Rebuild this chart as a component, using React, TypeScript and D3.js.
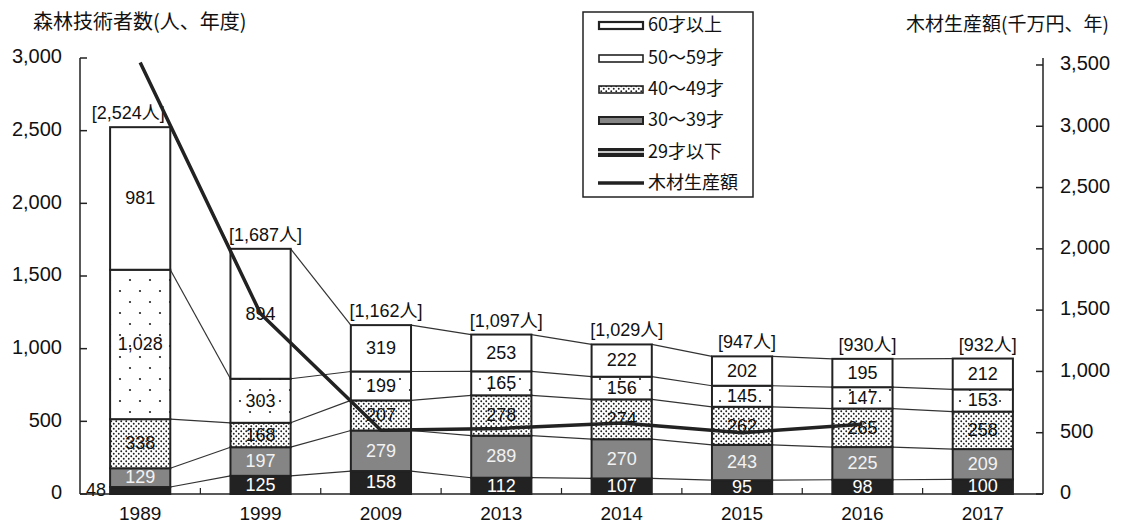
import React from 'react';
import * as d3 from 'd3';

const years = ['1989', '1999', '2009', '2013', '2014', '2015', '2016', '2017'];
const under29 = [48, 125, 158, 112, 107, 95, 98, 100];
const age30s = [129, 197, 279, 289, 270, 243, 225, 209];
const age40s = [338, 168, 207, 278, 274, 262, 265, 258];
const age50s = [1028, 303, 199, 165, 156, 145, 147, 153];
const over60 = [981, 894, 319, 253, 222, 202, 195, 212];
const totals = [2524, 1687, 1162, 1097, 1029, 947, 930, 932];
const timberOutput: (number | null)[] = [3520, 1470, 520, 535, 580, 500, 570, null];
const leftTicks = [0, 500, 1000, 1500, 2000, 2500, 3000];
const rightTicks = [0, 500, 1000, 1500, 2000, 2500, 3000, 3500];
const seriesKeys = ['u29', 'a30', 'a40', 'a50', 'o60'];
const legendLabels = ['60才以上', '50～59才', '40～49才', '30～39才', '29才以下', '木材生産額'];
const leftTitle = '森林技術者数(人、年度)';
const rightTitle = '木材生産額(千万円、年)';

const W = 1133;
const H = 528;
const X0 = 80;
const X1 = 1043;
const Y0 = 494;
const YT = 58;
const FONT = '"Liberation Sans", Arial, "Noto Sans CJK JP", sans-serif';
const JFONT = '"Noto Sans CJK JP", "Liberation Sans", sans-serif';

const fills: Record<string, string> = {
  u29: '#222',
  a30: '#858585',
  a40: 'url(#dense)',
  a50: 'url(#sparse)',
  o60: '#fff',
};
const textColors: Record<string, string> = {
  u29: '#fff',
  a30: '#f2f2f2',
  a40: '#111',
  a50: '#111',
  o60: '#111',
};

export default function App() {
  const x = d3.scaleBand<string>().domain(years).range([X0, X1]).paddingInner(0.5).paddingOuter(0.25);
  const bw = x.bandwidth();
  const yL = d3.scaleLinear().domain([0, 3000]).range([Y0, YT]);
  const yR = d3.scaleLinear().domain([0, 3557]).range([Y0, YT]);

  const rows = years.map((yr, i) => ({
    year: yr,
    u29: under29[i],
    a30: age30s[i],
    a40: age40s[i],
    a50: age50s[i],
    o60: over60[i],
  }));
  const stack = d3.stack<any>().keys(seriesKeys)(rows);

  const lineData = years
    .map((yr, i) => ({ yr, v: timberOutput[i] }))
    .filter((d) => d.v !== null) as { yr: string; v: number }[];
  const line = d3
    .line<{ yr: string; v: number }>()
    .x((d) => (x(d.yr) as number) + bw / 2)
    .y((d) => yR(d.v));

  const connectors: JSX.Element[] = [];
  stack.forEach((layer, li) => {
    for (let i = 0; i < years.length - 1; i++) {
      connectors.push(
        <line
          key={`c-${li}-${i}`}
          x1={(x(years[i]) as number) + bw}
          x2={x(years[i + 1]) as number}
          y1={yL(layer[i][1])}
          y2={yL(layer[i + 1][1])}
          stroke="#333"
          strokeWidth={1.2}
        />
      );
    }
  });

  const legendX = 598;
  const legendYs = [25, 58, 89, 120, 152, 183];

  return (
    <svg
      width={W}
      height={H}
      style={{ position: 'absolute', left: 0, top: 0, background: '#fff' }}
      fontFamily={FONT}
    >
      <defs>
        <pattern id="dense" width="5" height="5" patternUnits="userSpaceOnUse">
          <rect width="5" height="5" fill="#fff" />
          <circle cx="1.25" cy="1.25" r="0.95" fill="#222" />
          <circle cx="3.75" cy="3.75" r="0.95" fill="#222" />
        </pattern>
        <pattern id="sparse" width="20" height="22" patternUnits="userSpaceOnUse" x="110">
          <rect width="20" height="22" fill="#fff" />
          <circle cx="10" cy="5" r="1.1" fill="#222" />
          <circle cx="0" cy="16" r="1.1" fill="#222" />
          <circle cx="20" cy="16" r="1.1" fill="#222" />
        </pattern>
      </defs>
      <rect x={0} y={0} width={W} height={H} fill="#fff" />

      <text x={33} y={29} fontSize={20} fontFamily={JFONT} fill="#111">
        {leftTitle}
      </text>
      <text x={906} y={31} fontSize={19} fontFamily={JFONT} fill="#111">
        {rightTitle}
      </text>

      {connectors}

      {stack.map((layer) =>
        layer.map((seg, i) => (
          <rect
            key={`b-${layer.key}-${i}`}
            x={x(years[i]) as number}
            y={yL(seg[1])}
            width={bw}
            height={yL(seg[0]) - yL(seg[1])}
            fill={fills[layer.key]}
            stroke="#222"
            strokeWidth={2}
          />
        ))
      )}

      {stack.map((layer) =>
        layer.map((seg, i) => {
          const v = seg[1] - seg[0];
          const h = yL(seg[0]) - yL(seg[1]);
          const cx = (x(years[i]) as number) + bw / 2;
          const cy = (yL(seg[0]) + yL(seg[1])) / 2;
          if (h < 12) {
            return (
              <text
                key={`t-${layer.key}-${i}`}
                x={(x(years[i]) as number) - 4}
                y={cy + 1}
                fontSize={18}
                textAnchor="end"
                dominantBaseline="middle"
                fill="#111"
              >
                {d3.format(',')(v)}
              </text>
            );
          }
          return (
            <text
              key={`t-${layer.key}-${i}`}
              x={cx}
              y={cy + 1}
              fontSize={18}
              textAnchor="middle"
              dominantBaseline="middle"
              fill={textColors[layer.key]}
            >
              {d3.format(',')(v)}
            </text>
          );
        })
      )}

      {totals.map((t, i) => (
        <text
          key={`tot-${i}`}
          x={(x(years[i]) as number) + bw / 2 + (i === 0 ? -12 : 5)}
          y={yL(t) - 8}
          fontSize={18}
          textAnchor="middle"
          fill="#111"
        >
          {`[${d3.format(',')(t)}人]`}
        </text>
      ))}

      <path d={line(lineData) || ''} fill="none" stroke="#222" strokeWidth={3.5} strokeLinejoin="round" />

      <line x1={X0} x2={X0} y1={YT} y2={Y0} stroke="#222" strokeWidth={1.5} />
      {leftTicks.map((t) => (
        <g key={`lt-${t}`}>
          <line x1={X0} x2={X0 + 7} y1={yL(t)} y2={yL(t)} stroke="#222" strokeWidth={1.5} />
          <text x={62} y={yL(t)} fontSize={20} textAnchor="end" dominantBaseline="middle" fill="#111">
            {d3.format(',')(t)}
          </text>
        </g>
      ))}

      <line x1={X1} x2={X1} y1={YT} y2={Y0} stroke="#222" strokeWidth={1.5} />
      {rightTicks.map((t) => (
        <g key={`rt-${t}`}>
          <line x1={X1 - 7} x2={X1} y1={yR(t)} y2={yR(t)} stroke="#222" strokeWidth={1.5} />
          <text x={1060} y={yR(t)} fontSize={20} textAnchor="start" dominantBaseline="middle" fill="#111">
            {d3.format(',')(t)}
          </text>
        </g>
      ))}

      <line x1={X0} x2={X1} y1={Y0} y2={Y0} stroke="#222" strokeWidth={1.5} />
      {years.slice(1).map((yr) => {
        const bx = (x(yr) as number) - x.step() * 0.25;
        return <line key={`bt-${yr}`} x1={bx} x2={bx} y1={Y0} y2={Y0 - 6} stroke="#222" strokeWidth={1.2} />;
      })}
      {years.map((yr) => (
        <text
          key={`xl-${yr}`}
          x={(x(yr) as number) + bw / 2}
          y={520}
          fontSize={19}
          textAnchor="middle"
          fill="#111"
        >
          {yr}
        </text>
      ))}

      <rect x={583} y={12} width={170} height={185} fill="#fff" stroke="#222" strokeWidth={1.5} />
      {legendLabels.map((lab, i) => {
        const ly = legendYs[i];
        let sw: JSX.Element;
        if (i === 0) {
          sw = <rect x={legendX + 1} y={ly - 3} width={44} height={7} fill="#fff" stroke="#222" strokeWidth={2.2} />;
        } else if (i === 1) {
          sw = <rect x={legendX + 1} y={ly - 3} width={44} height={7} fill="#fff" stroke="#222" strokeWidth={1.6} />;
        } else if (i === 2) {
          sw = <rect x={legendX + 1} y={ly - 3} width={44} height={7} fill="url(#dense)" stroke="#222" strokeWidth={1.6} />;
        } else if (i === 3) {
          sw = <rect x={legendX + 1} y={ly - 3} width={44} height={7} fill="#858585" stroke="#222" strokeWidth={2} />;
        } else if (i === 4) {
          sw = (
            <g>
              <rect x={legendX} y={ly - 4} width={46} height={9} fill="#222" />
              <line x1={legendX} x2={legendX + 46} y1={ly} y2={ly} stroke="#fff" strokeWidth={1.5} />
            </g>
          );
        } else {
          sw = <line x1={legendX} x2={legendX + 46} y1={ly} y2={ly} stroke="#222" strokeWidth={3.5} />;
        }
        return (
          <g key={`lg-${i}`}>
            {sw}
            <text x={648} y={ly + 1} fontSize={18} fontFamily={JFONT} dominantBaseline="middle" fill="#111">
              {lab}
            </text>
          </g>
        );
      })}
    </svg>
  );
}
